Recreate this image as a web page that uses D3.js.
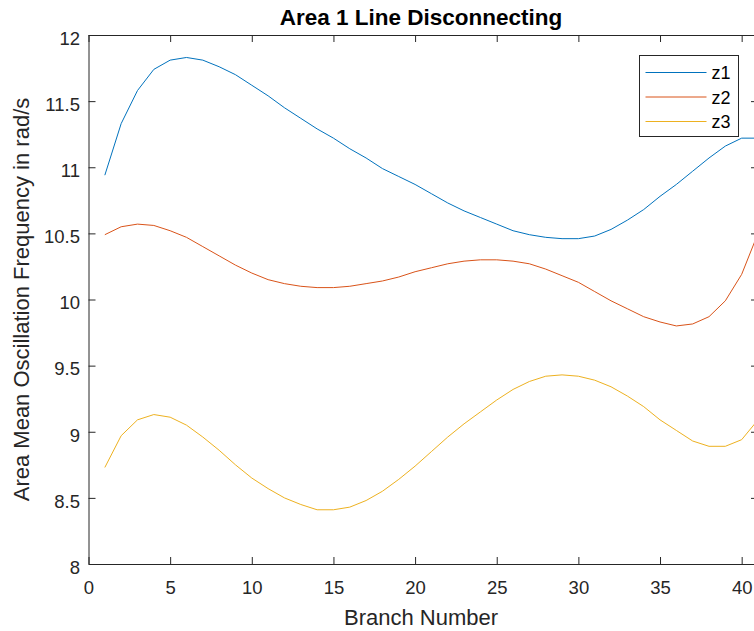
<!DOCTYPE html>
<html>
<head>
<meta charset="utf-8">
<script src="https://cdn.jsdelivr.net/npm/d3@7"></script>
<style>
    body { margin: 0; background: #fff; }
    svg { display: block; font-family: 'Liberation Sans', Arial, sans-serif; }
</style>
</head>
<body>
<svg id="chart"></svg>
<script>
// branch numbers 1..41
const branches = d3.range(1, 42);

const z1 = [10.94, 11.33, 11.58, 11.74, 11.81, 11.83, 11.81, 11.76, 11.70, 11.62,
            11.54, 11.45, 11.37, 11.29, 11.22, 11.14, 11.07, 10.99, 10.93, 10.87,
            10.80, 10.73, 10.67, 10.62, 10.57, 10.52, 10.49, 10.47, 10.46, 10.46,
            10.48, 10.53, 10.60, 10.68, 10.78, 10.87, 10.97, 11.07, 11.16, 11.22, 11.22];

const z2 = [10.49, 10.55, 10.57, 10.56, 10.52, 10.47, 10.40, 10.33, 10.26, 10.20,
            10.15, 10.12, 10.10, 10.09, 10.09, 10.10, 10.12, 10.14, 10.17, 10.21,
            10.24, 10.27, 10.29, 10.30, 10.30, 10.29, 10.27, 10.23, 10.18, 10.13,
            10.06, 9.99, 9.93, 9.87, 9.83, 9.80, 9.815, 9.87, 9.99, 10.19, 10.50];

const z3 = [8.73, 8.97, 9.09, 9.13, 9.11, 9.05, 8.96, 8.86, 8.75, 8.65,
            8.57, 8.50, 8.45, 8.41, 8.41, 8.43, 8.48, 8.55, 8.64, 8.74,
            8.85, 8.96, 9.06, 9.15, 9.24, 9.32, 9.38, 9.42, 9.43, 9.42,
            9.39, 9.34, 9.27, 9.19, 9.09, 9.01, 8.93, 8.89, 8.89, 8.94, 9.09];

const seriesNames = ['z1', 'z2', 'z3'];
const seriesColors = ['#0072BD', '#D95319', '#EDB120'];
const xTicks = [0, 5, 10, 15, 20, 25, 30, 35, 40];
const yTicks = [8, 8.5, 9, 9.5, 10, 10.5, 11, 11.5, 12];

const width = 754, height = 631;
const margin = { top: 35, left: 88.5, bottom: 67 };
const innerRight = 758;

const svg = d3.select('#chart')
    .attr('width', width)
    .attr('height', height);

const x = d3.scaleLinear().domain([0, 41]).range([margin.left, innerRight]);
const y = d3.scaleLinear().domain([8, 12]).range([height - margin.bottom, margin.top]);

const axisColor = '#262626';
const tickLen = 7;
const tickFont = '18.5px';

// lines
const line = d3.line()
    .x((d, i) => x(branches[i]))
    .y(d => y(d));

svg.append('clipPath').attr('id', 'plotclip')
    .append('rect')
    .attr('x', x(0)).attr('y', y(12))
    .attr('width', x(41) - x(0)).attr('height', y(8) - y(12));

const plot = svg.append('g').attr('clip-path', 'url(#plotclip)');
[z1, z2, z3].forEach((s, i) => {
    plot.append('path')
        .datum(s)
        .attr('fill', 'none')
        .attr('stroke', seriesColors[i])
        .attr('stroke-width', 1)
        .attr('d', line);
});

// axes (ticks pointing inward, box on)
const xAxisBottom = svg.append('g')
    .attr('transform', `translate(0, ${y(8)})`)
    .call(d3.axisBottom(x).tickValues(xTicks).tickSizeInner(-tickLen).tickSizeOuter(0).tickPadding(17));
const xAxisTop = svg.append('g')
    .attr('transform', `translate(0, ${y(12)})`)
    .call(d3.axisTop(x).tickValues(xTicks).tickSizeInner(-tickLen).tickSizeOuter(0).tickFormat(''));
const yAxisLeft = svg.append('g')
    .attr('transform', `translate(${x(0)}, 0)`)
    .call(d3.axisLeft(y).tickValues(yTicks).tickSizeInner(-tickLen).tickSizeOuter(0).tickPadding(8.5)
        .tickFormat(d3.format('')));
const yAxisRight = svg.append('g')
    .attr('transform', `translate(${x(41)}, 0)`)
    .call(d3.axisRight(y).tickValues(yTicks).tickSizeInner(-tickLen).tickSizeOuter(0).tickFormat(''));

[xAxisBottom, xAxisTop, yAxisLeft, yAxisRight].forEach(g => {
    g.select('.domain').attr('stroke', axisColor);
    g.selectAll('.tick line').attr('stroke', axisColor);
    g.selectAll('.tick text')
        .attr('fill', axisColor)
        .attr('font-size', tickFont)
        .attr('font-family', "'Liberation Sans', Arial, sans-serif");
});
yAxisLeft.selectAll('.tick text').attr('dy', '0.5em');

// title and labels
svg.append('text')
    .attr('x', 421)
    .attr('y', 25)
    .attr('text-anchor', 'middle')
    .attr('font-size', '22.5px')
    .attr('font-weight', 'bold')
    .attr('fill', '#000')
    .text('Area 1 Line Disconnecting');

svg.append('text')
    .attr('x', 421)
    .attr('y', 625)
    .attr('text-anchor', 'middle')
    .attr('font-size', '22px')
    .attr('fill', axisColor)
    .text('Branch Number');

svg.append('text')
    .attr('transform', `translate(29, ${(y(8) + y(12)) / 2}) rotate(-90)`)
    .attr('text-anchor', 'middle')
    .attr('font-size', '22px')
    .attr('fill', axisColor)
    .text('Area Mean Oscillation Frequency in rad/s');

// legend
const legend = svg.append('g').attr('transform', 'translate(639.5, 55.5)');
legend.append('rect')
    .attr('width', 99).attr('height', 81)
    .attr('fill', '#fff')
    .attr('stroke', axisColor)
    .attr('stroke-width', 1);
seriesNames.forEach((name, i) => {
    const ly = 17 + i * 24.5;
    legend.append('line')
        .attr('x1', 6).attr('x2', 67)
        .attr('y1', ly).attr('y2', ly)
        .attr('stroke', seriesColors[i])
        .attr('stroke-width', 1);
    legend.append('text')
        .attr('x', 72).attr('y', ly + 6.5)
        .attr('font-size', '18px')
        .attr('fill', '#000')
        .text(name);
});
</script>
</body>
</html>
